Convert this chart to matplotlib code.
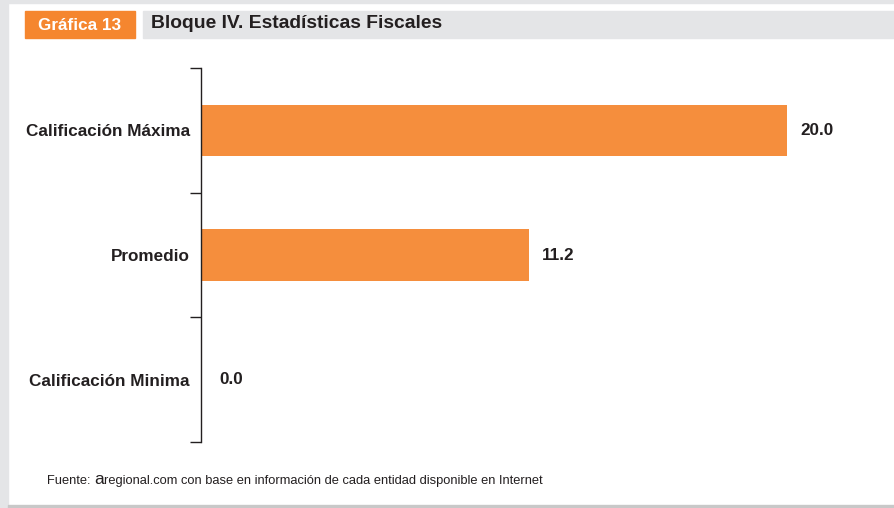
import matplotlib
matplotlib.use("Agg")
import matplotlib.pyplot as plt
from matplotlib.patches import Rectangle

categorias = ["Calificación Máxima", "Promedio", "Calificación Minima"]
valores = [20.0, 11.2, 0.0]
etiquetas = ["20.0", "11.2", "0.0"]

FUENTE = ["Liberation Sans Narrow", "Liberation Sans", "DejaVu Sans"]
NARANJA = "#f58e3d"
GRIS = "#e4e5e7"
TINTA = "#231f20"

W, H = 894, 508
fig = plt.figure(figsize=(W / 100, H / 100), dpi=100)

def px(x0, y0, w, h):
    # pixel box (top-left origin) -> figure fraction
    return [x0 / W, 1 - (y0 + h) / H, w / W, h / H]

def caja(x0, y0, w, h, color, z=0):
    b = px(x0, y0, w, h)
    fig.patches.append(Rectangle((b[0], b[1]), b[2], b[3], transform=fig.transFigure,
                                 color=color, zorder=z))

# marco
caja(0, 0, W, 3, GRIS)
caja(0, 0, 8, H, GRIS)
caja(8, 505, W, 3, "#c8c8c8")

# encabezado
caja(25, 11, 110, 27, "#f5862f", 1)
caja(143, 11, 751, 27, GRIS, 1)
fig.text(80 / W, 1 - 25 / H, "Gráfica 13", color="white", fontsize=12.3, fontweight="bold",
         family=FUENTE, ha="center", va="center", zorder=2)
fig.text(151 / W, 1 - 23 / H, "Bloque IV. Estadísticas Fiscales", color=TINTA, fontsize=13.9,
         fontweight="bold", family=FUENTE, ha="left", va="center", zorder=2)

# barras
ax_left, ax_top, ax_right, ax_bot = 201, 68, 860, 442
ax = fig.add_axes(px(ax_left, ax_top, ax_right - ax_left, ax_bot - ax_top))
pos = list(range(len(categorias)))
ax.barh(pos, valores, height=0.41, color=NARANJA)
ax.set_xlim(0, (ax_right - ax_left) / ((787 - ax_left) / 20.0))
ax.set_ylim(2.5, -0.5)
ax.set_yticks([-0.5, 0.5, 1.5, 2.5])
ax.set_yticklabels([])
ax.set_yticks(pos, minor=True)
ax.set_yticklabels(categorias, minor=True, fontsize=12.3, fontweight="bold", family=FUENTE, color=TINTA)
ax.tick_params(axis="y", which="minor", length=0, pad=8)
ax.tick_params(axis="y", which="major", length=8, width=1, color=TINTA)
ax.set_xticks([])
for s in ["top", "right", "bottom"]:
    ax.spines[s].set_visible(False)
ax.spines["left"].set_color(TINTA)
ax.spines["left"].set_linewidth(1)

for y, v, t in zip(pos, valores, etiquetas):
    ax.annotate(t, (v, y), xytext=(13 if v > 0 else 18, 0), textcoords="offset pixels",
                ha="left", va="center", fontsize=12.3, fontweight="bold", family=FUENTE, color=TINTA)

# nota de fuente
fig.canvas.draw()
r = fig.canvas.get_renderer()
t1 = fig.text(47 / W, 1 - 481 / H, "Fuente: ", fontsize=9.3, family=FUENTE, color=TINTA, va="center")
x1 = t1.get_window_extent(r).x1
t2 = fig.text(x1 / W, 1 - 480 / H, "a", fontsize=12.5, family=FUENTE, color=TINTA, va="center")
x2 = t2.get_window_extent(r).x1
fig.text(x2 / W, 1 - 481 / H, "regional.com con base en información de cada entidad disponible en Internet",
         fontsize=9.3, family=FUENTE, color=TINTA, va="center")

fig.savefig("out.png", dpi=100)
